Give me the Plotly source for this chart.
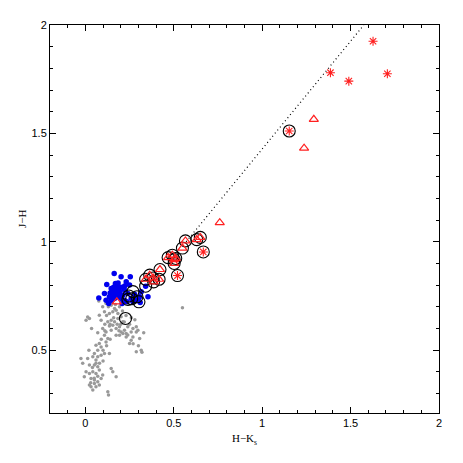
import plotly.graph_objects as go

# ---- data ----
gray_x = [0.076, 0.098, 0.117, 0.136, 0.146, 0.165, 0.155, 0.174, 0.193, 0.184, 0.136, 0.108, 0.079,
          0.023, 0.004, 0.089, 0.127, 0.146, 0.165, 0.184, 0.202, 0.212, 0.193, 0.221, 0.240, 0.259,
          0.269, 0.288, 0.297, 0.307, 0.316, 0.288, 0.250, 0.259, 0.231, 0.202, 0.174, 0.146, 0.117,
          0.098, 0.108, 0.127, 0.117, 0.079, 0.089, 0.060, 0.070, 0.051, 0.042, 0.070, 0.089, 0.108,
          0.136, 0.060, 0.013, -0.025, -0.015, 0.023, 0.051, 0.070, 0.079, 0.060, 0.042, 0.023, 0.004,
          -0.006, 0.032, 0.051, 0.070, 0.089, 0.098, 0.079, 0.051, 0.032, 0.060, 0.042, 0.023, 0.127,
          0.131, 0.174, 0.146, 0.155, 0.212, 0.231, 0.193, 0.174, 0.155, 0.136, 0.269, 0.288, 0.549,
          0.12, 0.16, 0.14, 0.18, 0.20, 0.11, 0.17, 0.21, 0.15, 0.13, 0.09, 0.10, 0.06, 0.04, 0.08,
          0.07, 0.05, 0.03, 0.10, 0.12, 0.14, 0.22, 0.25, 0.24, 0.27, 0.30, 0.32, 0.013, 0.035,
          0.33, 0.28, 0.23, 0.19, 0.26, 0.11, 0.07, 0.02]
gray_y = [0.727, 0.700, 0.715, 0.730, 0.707, 0.692, 0.677, 0.684, 0.700, 0.669, 0.669, 0.677, 0.661,
          0.646, 0.638, 0.638, 0.631, 0.638, 0.631, 0.646, 0.654, 0.631, 0.608, 0.592, 0.608, 0.584,
          0.600, 0.608, 0.592, 0.554, 0.500, 0.492, 0.531, 0.546, 0.561, 0.584, 0.600, 0.592, 0.584,
          0.600, 0.569, 0.554, 0.538, 0.531, 0.515, 0.523, 0.500, 0.485, 0.469, 0.469, 0.477, 0.485,
          0.485, 0.454, 0.462, 0.462, 0.439, 0.431, 0.431, 0.423, 0.408, 0.392, 0.400, 0.392, 0.400,
          0.377, 0.369, 0.362, 0.354, 0.369, 0.385, 0.339, 0.346, 0.331, 0.331, 0.316, 0.339, 0.308,
          0.293, 0.377, 0.415, 0.400, 0.577, 0.577, 0.569, 0.569, 0.615, 0.611, 0.561, 0.584, 0.695,
          0.66, 0.65, 0.62, 0.62, 0.62, 0.62, 0.71, 0.68, 0.72, 0.70, 0.55, 0.50, 0.44, 0.42, 0.44,
          0.38, 0.37, 0.35, 0.45, 0.52, 0.55, 0.63, 0.62, 0.57, 0.53, 0.52, 0.49, 0.653, 0.60,
          0.58, 0.64, 0.66, 0.59, 0.65, 0.59, 0.58, 0.50]

blue_x = [0.163, 0.121, 0.202, 0.254, 0.222, 0.250, 0.076, 0.136, 0.155, 0.174, 0.184, 0.170, 0.146,
          0.193, 0.146, 0.132, 0.165, 0.202, 0.212, 0.221, 0.208, 0.235, 0.259, 0.288, 0.269, 0.307,
          0.316, 0.354, 0.341, 0.240, 0.278, 0.178, 0.159, 0.189, 0.167, 0.140, 0.151, 0.193, 0.108,
          0.117, 0.221, 0.231, 0.160, 0.180, 0.170, 0.150, 0.200, 0.185, 0.175, 0.190, 0.310, 0.300]
blue_y = [0.853, 0.803, 0.838, 0.838, 0.796, 0.800, 0.741, 0.746, 0.761, 0.769, 0.792, 0.807, 0.784,
          0.769, 0.730, 0.715, 0.738, 0.738, 0.754, 0.730, 0.715, 0.723, 0.738, 0.730, 0.723, 0.746,
          0.769, 0.746, 0.795, 0.761, 0.758, 0.753, 0.777, 0.780, 0.789, 0.764, 0.749, 0.746, 0.761,
          0.730, 0.777, 0.815, 0.790, 0.760, 0.775, 0.770, 0.790, 0.810, 0.745, 0.760, 0.720, 0.735]

circ_x = [0.227, 0.246, 0.269, 0.241, 0.292, 0.303, 0.262, 0.341,
          0.341, 0.364, 0.383, 0.386, 0.417, 0.422, 0.468, 0.492, 0.502, 0.511, 0.502,
          0.521, 0.549, 0.566, 0.630, 0.650, 0.667, 1.153]
circ_y = [0.646, 0.750, 0.770, 0.734, 0.746, 0.723, 0.737, 0.795,
          0.827, 0.846, 0.833, 0.815, 0.827, 0.872, 0.927, 0.938, 0.918, 0.923, 0.900,
          0.844, 0.971, 1.004, 1.010, 1.020, 0.953, 1.511]

tri_x = [0.178, 0.341, 0.364, 0.383, 0.386, 0.417, 0.422, 0.468, 0.492, 0.502, 0.511, 0.502,
         0.549, 0.566, 0.630, 0.650, 0.760, 1.237, 1.292]
tri_y = [0.723, 0.827, 0.846, 0.833, 0.815, 0.827, 0.872, 0.927, 0.938, 0.918, 0.923, 0.900,
         0.971, 1.004, 1.010, 1.020, 1.088, 1.432, 1.565]

ast_x = [0.521, 0.667, 1.153, 1.386, 1.490, 1.627, 1.708]
ast_y = [0.844, 0.953, 1.511, 1.780, 1.741, 1.925, 1.775]

line_x = [0.57, 1.575]
line_y = [1.0, 2.0]

x_title = "H\u2212K<sub>s</sub>"
y_title = "J\u2212H"

fig = go.Figure()
fig.add_trace(go.Scatter(x=gray_x, y=gray_y, mode="markers",
                         marker=dict(size=3.5, color="#999999"), hoverinfo="skip"))
fig.add_trace(go.Scatter(x=blue_x, y=blue_y, mode="markers",
                         marker=dict(size=5.5, color="#0000ee"), hoverinfo="skip"))
fig.add_trace(go.Scatter(x=line_x, y=line_y, mode="lines",
                         line=dict(color="black", width=1.2, dash="1px,3px"), hoverinfo="skip"))
fig.add_trace(go.Scatter(x=circ_x, y=circ_y, mode="markers",
                         marker=dict(size=12, symbol="circle-open", color="black",
                                     line=dict(width=1.1, color="black")), hoverinfo="skip"))
fig.add_trace(go.Scatter(x=tri_x, y=tri_y, mode="markers",
                         marker=dict(size=8, symbol="triangle-up-open", color="#ff2020",
                                     line=dict(width=1.2, color="#ff2020")), hoverinfo="skip"))
fig.add_trace(go.Scatter(x=ast_x, y=ast_y, mode="markers",
                         marker=dict(size=7.5, symbol="asterisk-open", color="#ff2020",
                                     line=dict(width=1.1, color="#ff2020")), hoverinfo="skip"))

axis_common = dict(showgrid=False, zeroline=False, showline=True, linecolor="black", linewidth=1,
                   mirror="allticks", ticks="inside", ticklen=6, tickcolor="black", tickwidth=1,
                   automargin=False,
                   tickfont=dict(family="Liberation Sans", size=11, color="black"),
                   minor=dict(ticks="inside", ticklen=3, tickcolor="black", dtick=0.1))

fig.update_xaxes(range=[-0.2, 2.0], tick0=0, dtick=0.5, **axis_common,
                 title=dict(text=x_title, standoff=6,
                            font=dict(family="Liberation Serif", size=11, color="black")))
fig.update_yaxes(range=[0.21, 2.0], tick0=0, dtick=0.5, **axis_common)

fig.add_annotation(text=y_title, xref="paper", yref="paper", x=0, y=0.5,
                   xshift=-28, xanchor="center", yanchor="middle", textangle=-90,
                   showarrow=False,
                   font=dict(family="Liberation Serif", size=11, color="black"))

fig.update_layout(width=463, height=463, showlegend=False,
                  margin=dict(l=42, r=32, t=17, b=58),
                  plot_bgcolor="white", paper_bgcolor="white")

fig.write_html("out.html")
